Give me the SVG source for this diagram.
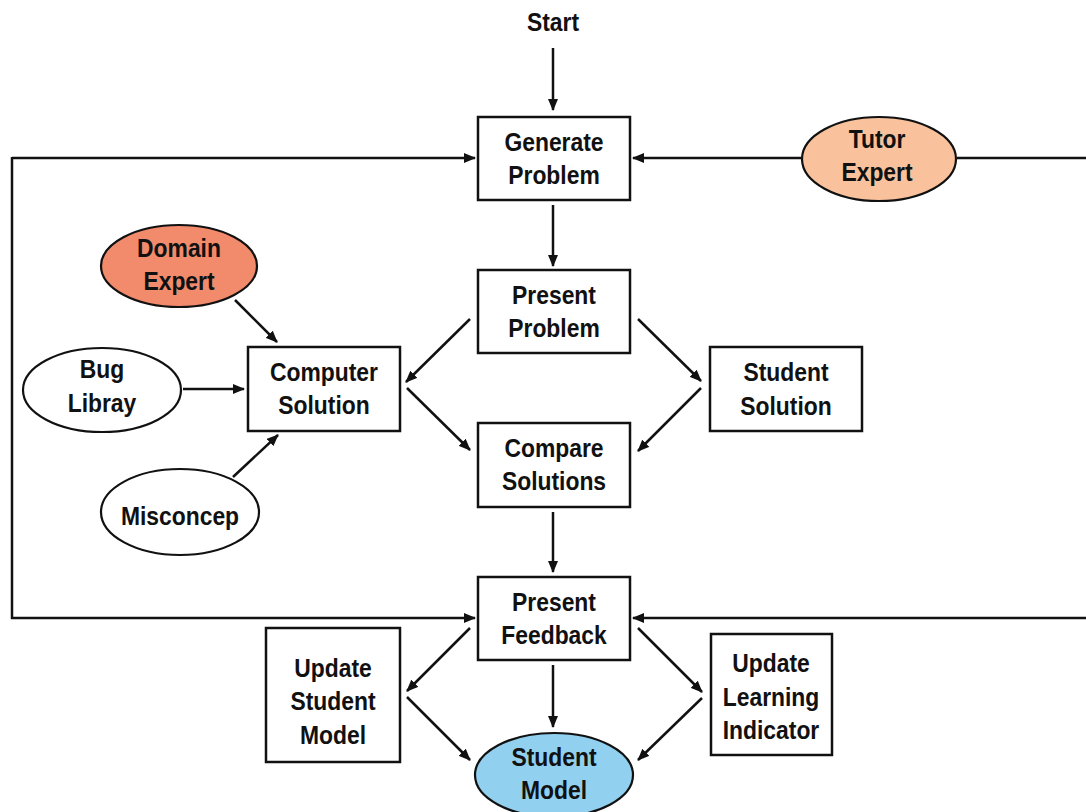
<svg xmlns="http://www.w3.org/2000/svg" width="1086" height="812" viewBox="0 0 1086 812">
<defs>
<style>
.box{fill:#fff;stroke:#111;stroke-width:2.5}
.ell{stroke:#111;stroke-width:2.2}
.lbl{font-family:"Liberation Sans",Arial,sans-serif;font-weight:bold;font-size:26px;fill:#111;text-anchor:middle}
.con{fill:none;stroke:#111;stroke-width:2.5}
</style>
<marker id="ah" viewBox="0 0 12 10" refX="11" refY="5" markerWidth="12" markerHeight="10" markerUnits="userSpaceOnUse" orient="auto">
<path d="M0,0 L12,5 L0,10 Z" fill="#111"/>
</marker>
</defs>
<rect width="1086" height="812" fill="#fff"/>

<g id="connectors">
<path class="con" d="M553,48 V110" marker-end="url(#ah)"/>
<path class="con" d="M12,158 H475" marker-end="url(#ah)"/>
<path class="con" d="M12,157 V618 H475" marker-end="url(#ah)"/>
<path class="con" d="M1090,158 H957"/>
<path class="con" d="M802,158 H633" marker-end="url(#ah)"/>
<path class="con" d="M1090,618 H633" marker-end="url(#ah)"/>
<path class="con" d="M553,205 V266" marker-end="url(#ah)"/>
<path class="con" d="M470,319 L406,382" marker-end="url(#ah)"/>
<path class="con" d="M407,388 L470,450" marker-end="url(#ah)"/>
<path class="con" d="M638,319 L701,381" marker-end="url(#ah)"/>
<path class="con" d="M701,388 L638,451" marker-end="url(#ah)"/>
<path class="con" d="M235,300 L277,342" marker-end="url(#ah)"/>
<path class="con" d="M183,389 H244" marker-end="url(#ah)"/>
<path class="con" d="M233,477 L278,435" marker-end="url(#ah)"/>
<path class="con" d="M553,512 V572" marker-end="url(#ah)"/>
<path class="con" d="M470,628 L407,691" marker-end="url(#ah)"/>
<path class="con" d="M407,697 L470,760" marker-end="url(#ah)"/>
<path class="con" d="M553,665 V727" marker-end="url(#ah)"/>
<path class="con" d="M638,628 L702,692" marker-end="url(#ah)"/>
<path class="con" d="M702,698 L638,760" marker-end="url(#ah)"/>
</g>

<g id="start">
<text class="lbl" transform="translate(553,31) scale(0.88,1)">Start</text>
</g>

<g id="generate-problem">
<rect class="box" x="478" y="117" width="152" height="83"/>
<text class="lbl" transform="translate(554,151) scale(0.88,1)"><tspan x="0" y="0">Generate</tspan><tspan x="0" y="33">Problem</tspan></text>
</g>

<g id="tutor-expert">
<ellipse class="ell" cx="879" cy="159" rx="77" ry="42" fill="#F9C29C"/>
<text class="lbl" transform="translate(877,148) scale(0.88,1)"><tspan x="0" y="0">Tutor</tspan><tspan x="0" y="33">Expert</tspan></text>
</g>

<g id="present-problem">
<rect class="box" x="478" y="270" width="152" height="83"/>
<text class="lbl" transform="translate(554,304) scale(0.88,1)"><tspan x="0" y="0">Present</tspan><tspan x="0" y="33">Problem</tspan></text>
</g>

<g id="domain-expert">
<ellipse class="ell" cx="179" cy="266" rx="78" ry="41" fill="#F28A6C"/>
<text class="lbl" transform="translate(179,257) scale(0.88,1)"><tspan x="0" y="0">Domain</tspan><tspan x="0" y="33">Expert</tspan></text>
</g>

<g id="computer-solution">
<rect class="box" x="248" y="347" width="152" height="84"/>
<text class="lbl" transform="translate(324,381) scale(0.88,1)"><tspan x="0" y="0">Computer</tspan><tspan x="0" y="33">Solution</tspan></text>
</g>

<g id="bug-library">
<ellipse class="ell" cx="102" cy="390" rx="79" ry="42" fill="#fff"/>
<text class="lbl" transform="translate(102,378) scale(0.88,1)"><tspan x="0" y="0">Bug</tspan><tspan x="0" y="34">Libray</tspan></text>
</g>

<g id="misconcep">
<ellipse class="ell" cx="180" cy="512" rx="79" ry="43" fill="#fff"/>
<text class="lbl" transform="translate(180,525) scale(0.88,1)">Misconcep</text>
</g>

<g id="student-solution">
<rect class="box" x="710" y="347" width="152" height="84"/>
<text class="lbl" transform="translate(786,381) scale(0.88,1)"><tspan x="0" y="0">Student</tspan><tspan x="0" y="34">Solution</tspan></text>
</g>

<g id="compare-solutions">
<rect class="box" x="478" y="423" width="152" height="84"/>
<text class="lbl" transform="translate(554,457) scale(0.88,1)"><tspan x="0" y="0">Compare</tspan><tspan x="0" y="33">Solutions</tspan></text>
</g>

<g id="present-feedback">
<rect class="box" x="478" y="577" width="152" height="83"/>
<text class="lbl" transform="translate(554,611) scale(0.88,1)"><tspan x="0" y="0">Present</tspan><tspan x="0" y="33">Feedback</tspan></text>
</g>

<g id="update-student-model">
<rect class="box" x="266" y="628" width="134" height="134"/>
<text class="lbl" transform="translate(333,677) scale(0.88,1)"><tspan x="0" y="0">Update</tspan><tspan x="0" y="33">Student</tspan><tspan x="0" y="67">Model</tspan></text>
</g>

<g id="update-learning-indicator">
<rect class="box" x="711" y="634" width="121" height="121"/>
<text class="lbl" transform="translate(771,672) scale(0.88,1)"><tspan x="0" y="0">Update</tspan><tspan x="0" y="34">Learning</tspan><tspan x="0" y="67">Indicator</tspan></text>
</g>

<g id="student-model">
<ellipse class="ell" cx="554" cy="775" rx="79" ry="42" fill="#92D0F0"/>
<text class="lbl" transform="translate(554,766) scale(0.88,1)"><tspan x="0" y="0">Student</tspan><tspan x="0" y="33">Model</tspan></text>
</g>
</svg>
